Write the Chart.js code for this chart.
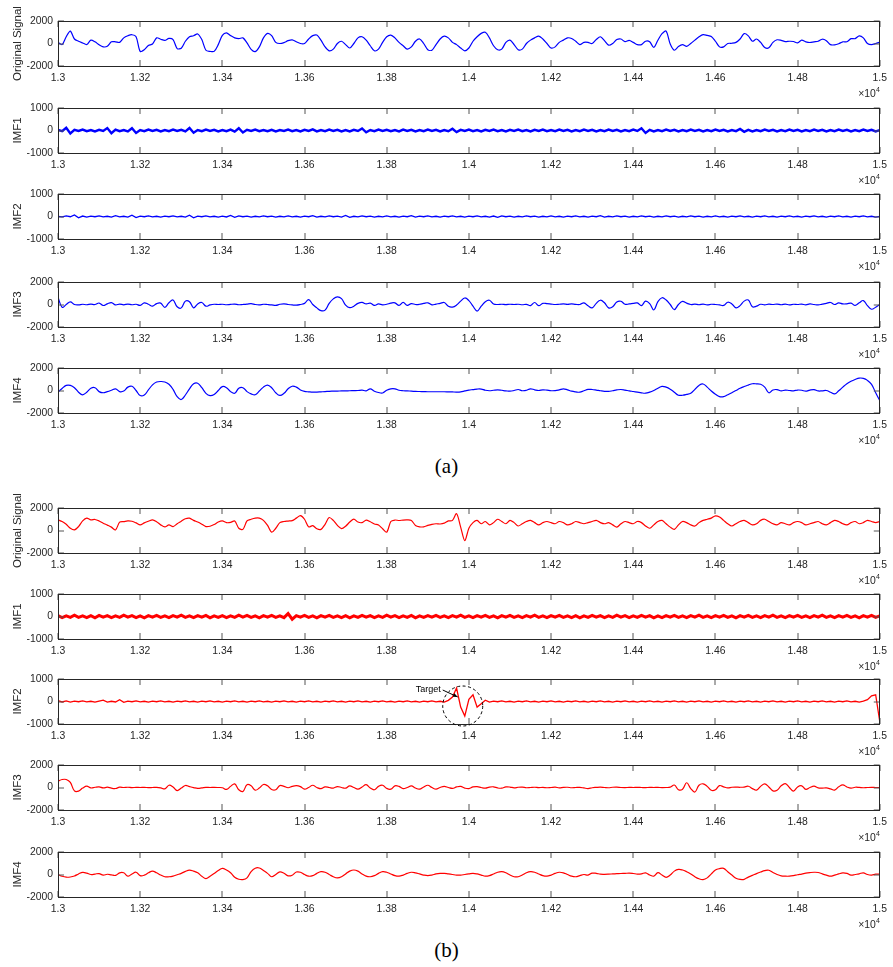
<!DOCTYPE html>
<html>
<head>
<meta charset="utf-8">
<script src="https://cdn.jsdelivr.net/npm/chart.js@4/dist/chart.umd.min.js"></script>
<style>
  body { margin: 0; background: #fff; }
  #page { position: relative; width: 893px; height: 967px; overflow: hidden; background: #fff; }
  .panel { position: absolute; left: 0; }
  .cap { position: absolute; left: 0; width: 893px; text-align: center;
         font-family: "Liberation Serif", "Times New Roman", serif; font-size: 21px; color: #000; line-height: 24px; }
</style>
</head>
<body>
<div id="page">
  <div class="cap" style="top:454px">(a)</div>
  <div class="cap" style="top:938px">(b)</div>
</div>
<script>
// Sample axis: one value every 10 samples from 13000 to 15000
const SAMPLE_START = 13000;
const SAMPLE_STEP = 10;

const xTickSamples = [13000, 13200, 13400, 13600, 13800, 14000, 14200, 14400, 14600, 14800, 15000];
const xTickLabels = ['1.3', '1.32', '1.34', '1.36', '1.38', '1.4', '1.42', '1.44', '1.46', '1.48', '1.5'];
const yTicksWide = [-2000, 0, 2000];
const yTicksNarrow = [-1000, 0, 1000];

// (a) decomposition
const origA = [
  100,-100,600,1100,400,200,50,-90,300,150, -120,-300,-250,150,150,100,500,690,780,600,
  -700,-550,-180,-50,500,380,280,450,350,-450, -420,200,600,690,850,350,-600,-700,-700,-100,
  720,950,700,500,430,500,50,-520,-720,-300, 500,900,700,100,0,80,250,320,150,0,
  0,400,700,750,300,-300,-650,-500,0,200, -100,-400,0,500,600,300,-200,-650,-500,100,
  600,750,500,100,-200,-500,-300,200,400,0, -550,-600,-100,400,650,500,100,-100,-400,-650,
  -400,200,600,900,1000,500,-200,-550,-500,100, 300,-100,-550,-500,0,300,500,650,400,0,
  -400,-300,100,300,500,450,200,-100,100,100, 0,350,600,250,-150,0,350,400,160,280,
  100,-100,-100,200,150,-350,290,870,1100,-50, -600,-270,-100,-250,0,300,590,790,720,620,
  200,-300,-300,0,20,100,400,880,680,200, 400,100,-350,-380,100,330,280,170,200,180,
  50,300,150,90,150,200,380,250,-100,-120, -20,150,150,430,430,680,500,0,-100,0,
  120
];
const imf1A = [
  30,-30,120,-130,30,-20,40,-30,20,-40, 30,-20,110,-120,40,-30,20,-40,100,-110,
  20,-30,40,-20,30,-40,20,-30,40,-20, 30,-40,110,-100,20,-30,40,-20,30,-40,
  20,-30,40,-50,100,-90,30,-20,40,-30, 20,-30,30,-40,20,-20,40,-30,20,-40,
  30,-20,50,-40,20,-30,40,-20,30,-40, 20,-40,30,-20,90,-80,20,-30,40,-20,
  30,-30,20,-40,40,-20,30,-40,20,-30, 40,-20,30,-40,20,-30,80,-70,30,-20,
  40,-30,20,-40,30,-20,40,-30,20,-40, 30,-20,40,-30,20,-40,30,-20,40,-30,
  20,-30,40,-20,30,-40,20,-30,40,-20, 30,-40,20,-30,40,-20,30,-40,20,-30,
  40,-20,100,-110,30,-40,20,-30,40,-20, 30,-40,20,-30,40,-20,30,-40,20,-30,
  40,-20,30,-40,20,-30,70,-60,30,-40, 20,-30,40,-20,30,-40,20,-30,40,-20,
  30,-40,20,-30,40,-20,30,-40,20,-30, 40,-20,30,-40,20,-30,40,-20,30,-40,
  20
];
const imf2A = [
  10,-20,30,-10,70,-60,20,-30,20,-10, 30,-20,10,-30,40,-20,10,-30,60,-50,
  20,-10,30,-20,10,-30,20,-10,30,-20, 10,-30,60,-60,20,-10,30,-20,10,-30,
  20,-20,50,-40,30,-10,20,-30,10,-20, 30,-10,20,-30,10,-20,30,-20,10,-30,
  20,-10,40,-30,10,-20,30,-10,20,-30, 50,-40,10,-20,30,-10,20,-30,10,-20,
  30,-20,10,-30,20,-10,40,-30,20,-10, 30,-20,10,-30,20,-10,30,-20,10,-30,
  20,-10,30,-20,10,-30,20,-40,30,-10, 20,-30,10,-20,30,-10,20,-30,10,-20,
  30,-20,10,-30,20,-10,30,-20,10,-30, 20,-10,40,-30,10,-20,30,-10,20,-30,
  10,-20,30,-10,20,-30,10,-20,30,-10, 20,-30,10,-20,30,-10,20,-30,10,-20,
  30,-20,10,-30,20,-10,30,-20,10,-30, 20,-10,30,-20,10,-30,20,-10,30,-20,
  10,-30,20,-10,30,-20,10,-30,20,-10, 30,-20,10,-30,20,-10,30,-20,10,-30,
  10
];
const imf3A = [
  650,-250,0,240,0,-30,20,-20,30,0, 130,-90,60,170,-40,40,-30,40,-20,20,
  -80,150,20,-150,80,120,-250,150,400,-200, -300,300,250,-300,50,180,-150,-40,20,0,
  20,-20,10,30,-20,0,30,80,0,-30, 20,0,-30,-80,20,60,0,-40,-60,0,
  100,440,0,-300,-550,-500,100,500,680,520, -50,-280,-150,100,190,50,120,-80,50,-30,
  20,120,150,-80,190,-80,80,0,20,100, 150,-30,40,100,180,-160,-230,-50,300,580,
  350,-150,-580,-150,250,380,50,0,20,-10, 20,0,20,-20,10,-100,180,-100,100,80,
  40,0,20,50,20,50,10,0,150,-120, -300,100,380,150,-300,-200,230,290,20,50,
  100,140,-100,300,80,-490,250,600,400,0, -450,0,280,120,0,30,-20,30,-30,20,
  0,-40,-80,200,50,-300,-100,300,400,-200, -150,20,-30,30,0,40,-20,30,-30,20,
  0,40,-30,50,0,-40,30,100,180,0, 140,50,60,120,-80,150,350,-100,-420,-240,
  0
];
const imf4A = [
  -150,180,450,450,250,-150,-380,-150,200,250, -100,-200,-100,20,150,-100,-50,300,380,0,
  -450,-400,50,500,750,800,760,550,100,-550, -800,-400,150,600,650,250,-250,-450,-350,0,
  350,250,-100,-250,200,250,-100,-300,-380,-50, 300,480,250,-200,-440,-250,150,380,300,50,
  -80,-120,-150,-140,-120,-100,-70,-60,-50,-40, -30,-20,-10,0,30,-30,150,-60,-180,-220,
  20,150,150,20,-20,-30,-60,-80,-90,-100, -110,-110,-110,-110,-110,-120,-130,-140,-120,-40,
  40,80,130,130,20,-20,20,60,20,-30, -60,0,90,-20,20,150,60,0,60,30,
  -20,-10,60,150,60,-60,-120,-150,-20,100, 90,40,-20,-70,-80,-20,50,90,40,-30,
  -90,-150,-210,-240,-150,0,200,370,300,120, -150,-420,-420,-350,-250,100,450,580,300,-50,
  -330,-550,-550,-380,-200,0,200,350,480,600, 590,550,300,-200,50,80,-30,40,0,-30,
  40,20,-60,40,80,-40,-30,0,-150,-300, -30,300,600,820,980,1100,1080,900,550,-200,
  -900
];

// (b) decomposition
const origB = [
  950,800,550,200,50,350,850,1100,950,980, 850,650,480,300,50,740,790,850,820,680,
  500,680,820,950,780,500,320,500,350,600, 820,1050,1100,900,750,560,350,380,530,750,
  850,700,720,850,200,100,850,1000,1100,1100, 900,450,-150,200,700,800,840,880,1100,1330,
  1000,320,430,150,100,550,1150,900,450,170, 380,750,1020,750,700,930,780,580,480,150,
  -150,800,930,890,930,940,890,450,330,320, 450,550,600,580,650,850,900,1500,300,-900,
  200,700,900,600,800,500,700,1000,800,600, 900,700,400,600,800,900,700,500,700,800,
  700,600,800,700,500,600,800,700,600,700, 800,900,700,600,700,500,300,600,800,700,
  600,800,700,400,200,500,800,900,600,300, 100,500,800,700,500,400,700,900,1000,1100,
  1300,1200,900,600,400,600,800,900,700,500, 600,900,1000,800,600,500,700,600,500,700,
  800,700,500,600,700,800,600,500,700,900, 800,600,500,700,800,600,700,900,800,700,
  800
];
const imf1B = [
  40,-50,30,-40,60,-40,30,-50,40,-60, 50,-30,40,-50,30,-40,60,-30,40,-50,
  30,-60,40,-30,50,-40,30,-50,40,-30, 60,-40,30,-50,40,-30,50,-60,30,-40,
  40,-50,30,-40,60,-30,50,-40,30,-60, 40,-30,50,-40,30,-50,130,-120,40,-30,
  50,-40,30,-60,40,-30,50,-40,30,-50, 40,-60,30,-40,50,-30,40,-50,30,-40,
  60,-30,40,-50,30,-40,50,-60,30,-40, 40,-30,50,-40,30,-50,40,-30,60,-40,
  30,-50,40,-30,50,-40,30,-60,40,-30, 50,-40,30,-50,40,-30,60,-40,30,-50,
  40,-30,50,-40,30,-50,40,-60,30,-40, 50,-30,40,-50,30,-40,60,-30,40,-50,
  30,-40,50,-30,40,-60,30,-50,40,-30, 50,-40,30,-50,40,-30,60,-40,30,-50,
  40,-30,50,-40,30,-60,40,-30,50,-40, 30,-50,40,-30,60,-40,30,-50,40,-30,
  50,-40,30,-50,40,-30,60,-40,30,-50, 40,-30,50,-40,30,-60,40,-30,50,-40,
  30
];
const imf2B = [
  40,-20,30,-30,20,-10,30,-20,10,-30, 20,60,-30,10,-20,80,-40,20,-10,30,
  -20,10,-30,20,-10,30,-20,10,-30,20, -10,30,-20,10,-30,20,-10,30,-20,10,
  -30,20,-10,30,-20,10,-30,20,-10,30, -20,10,-30,20,-10,30,-20,10,-30,20,
  -10,30,-20,10,-30,20,-10,30,-20,10, -30,20,-10,30,-20,10,-30,20,-10,30,
  -20,10,-30,20,-10,30,-20,10,-30,20, -10,30,-20,10,-30,50,200,600,-250,-650,
  100,300,-250,-100,60,-30,20,-10,30,-20, 10,-30,20,-10,30,-20,10,-30,20,-10,
  30,-20,10,-30,20,-10,30,-20,10,-30, 20,-10,30,-20,10,-30,20,-10,30,-20,
  10,-30,20,-10,30,-20,10,-30,20,-10, 30,-20,10,-30,20,-10,30,-20,10,-30,
  20,-10,30,-20,10,-30,20,-10,30,-20, 10,-30,20,-10,30,-20,10,-30,20,-10,
  30,-20,10,-30,20,-10,30,-20,10,-30, 20,-10,30,-20,10,-30,20,80,250,300,
  -900
];
const imf3B = [
  560,710,710,450,-300,-320,-50,120,-40,20, 60,-40,30,-60,-90,30,0,20,-10,10,
  0,10,-10,0,10,-30,-120,200,50,-270, -50,180,80,-10,-80,-40,10,0,10,0,
  -20,-170,100,320,-200,-350,250,150,-240,-50, 270,150,-180,-200,170,100,-20,100,170,80,
  -150,0,200,0,-100,50,0,-50,80,0, -60,150,0,-150,50,250,-50,-200,100,200,
  -80,-150,150,100,-100,0,150,-50,-150,50, 200,0,-150,0,100,0,-80,50,100,-50,
  -100,50,80,0,-60,40,60,-40,-60,50, 40,-30,20,30,-20,0,20,-10,10,-20,
  0,30,-30,10,20,-20,0,10,-40,-100, -20,10,30,0,-20,20,30,0,-10,10,
  0,10,0,-10,10,0,10,-10,0,30, 220,-200,-150,420,-100,-400,200,330,100,-250,
  -200,170,60,-30,20,30,20,40,110,-100, -240,100,330,50,-300,-250,150,350,0,-320,
  50,150,-170,0,120,-30,-50,-40,-120,-230, 60,240,50,-60,20,10,-20,0,10,0,
  0
];
const imf4B = [
  0,-160,-240,-220,-130,50,190,120,0,40, 80,-60,20,-30,-80,150,150,-150,50,200,
  -100,-60,150,300,150,-50,-200,-200,-140,-20, 100,280,390,300,150,-150,-360,-150,90,350,
  540,400,150,-250,-420,-450,-300,260,560,580, 350,100,-200,0,230,110,-120,-60,220,200,
  0,-150,-100,100,250,200,0,-200,-300,-200, 50,300,400,300,50,-150,-200,-100,100,250,
  200,50,-100,-150,-50,100,200,150,50,-50, -100,-50,50,100,100,50,0,-50,-50,0,
  50,100,50,-50,-150,-100,50,200,250,150, -50,-200,-200,-50,150,250,200,50,-100,-150,
  -50,100,200,150,0,-150,-200,-100,0,-50, 120,100,30,20,30,50,70,90,100,120,
  90,40,60,150,-40,-150,160,-50,-250,-50, 300,450,400,250,50,-200,-380,-450,-300,50,
  400,520,540,250,-50,-330,-440,-430,-230,-80, 80,220,340,380,180,0,-120,-150,-150,-100,
  -20,40,120,170,200,180,60,-50,-150,-60, 50,150,100,-60,0,60,150,0,-50,30,
  30
];

const BLUE = '#0000ff';
const RED = '#ff0000';
const TEXT = '#262626';
const FONT = '"Liberation Sans", Arial, Helvetica, sans-serif';

const PAD_TOP = 40;   // room above each plot box for the rotated axis title
const PLOT_H = 45;
const AXIS_H = 36;
const TICK_LEN = 6;

const panels = [
  { label: 'Original Signal', values: origA, color: BLUE, ticks: yTicksWide,   top: 21,  tension: 0.3, width: 1.2 },
  { label: 'IMF1',            values: imf1A, color: BLUE, ticks: yTicksNarrow, top: 108, tension: 0,   width: 2.4 },
  { label: 'IMF2',            values: imf2A, color: BLUE, ticks: yTicksNarrow, top: 194, tension: 0,   width: 1.3 },
  { label: 'IMF3',            values: imf3A, color: BLUE, ticks: yTicksWide,   top: 282, tension: 0.4, width: 1.2 },
  { label: 'IMF4',            values: imf4A, color: BLUE, ticks: yTicksWide,   top: 368, tension: 0.4, width: 1.2 },
  { label: 'Original Signal', values: origB, color: RED,  ticks: yTicksWide,   top: 508, tension: 0.3, width: 1.2 },
  { label: 'IMF1',            values: imf1B, color: RED,  ticks: yTicksNarrow, top: 594, tension: 0,   width: 3.0 },
  { label: 'IMF2',            values: imf2B, color: RED,  ticks: yTicksNarrow, top: 679, tension: 0,   width: 1.3,
    target: { sample: 13985, value: -200, radius: 20, text: 'Target' } },
  { label: 'IMF3',            values: imf3B, color: RED,  ticks: yTicksWide,   top: 765, tension: 0.4, width: 1.2 },
  { label: 'IMF4',            values: imf4B, color: RED,  ticks: yTicksWide,   top: 852, tension: 0.4, width: 1.2 }
];

// Box, inward ticks, rotated axis title, x exponent and optional annotation
const axesFrame = {
  id: 'axesFrame',
  afterDraw(chart, args, opts) {
    const { ctx, chartArea: a, scales: { x, y } } = chart;
    ctx.save();
    // inward tick marks
    ctx.strokeStyle = '#555';
    ctx.lineWidth = 1;
    ctx.beginPath();
    x.ticks.forEach((t, i) => {
      const px = Math.round(x.getPixelForTick(i));
      ctx.moveTo(px, a.top); ctx.lineTo(px, a.top + TICK_LEN);
      ctx.moveTo(px, a.bottom); ctx.lineTo(px, a.bottom - TICK_LEN);
    });
    y.ticks.forEach((t, i) => {
      const py = Math.round(y.getPixelForTick(i));
      ctx.moveTo(a.left, py); ctx.lineTo(a.left + TICK_LEN, py);
      ctx.moveTo(a.right, py); ctx.lineTo(a.right - TICK_LEN, py);
    });
    ctx.stroke();
    // box
    ctx.strokeStyle = TEXT;
    ctx.strokeRect(Math.round(a.left) + 0.5, Math.round(a.top) + 0.5,
                   Math.round(a.right - a.left) - 1, Math.round(a.bottom - a.top));
    // exponent label under the last tick
    ctx.fillStyle = TEXT;
    ctx.textBaseline = 'alphabetic';
    ctx.textAlign = 'right';
    ctx.font = '7px ' + FONT;
    const supW = ctx.measureText('4').width;
    ctx.fillText('4', a.right, a.bottom + 26);
    ctx.font = '10.4px ' + FONT;
    ctx.fillText('\u00d710', a.right - supW, a.bottom + 31);
    // rotated axis title
    ctx.save();
    ctx.translate(17.5, (a.top + a.bottom) / 2);
    ctx.rotate(-Math.PI / 2);
    ctx.textAlign = 'center';
    ctx.textBaseline = 'middle';
    ctx.font = '11.5px ' + FONT;
    ctx.fillText(opts.label, 0, 0);
    ctx.restore();
    // marked event
    if (opts.target) {
      const t = opts.target;
      const cx = x.getPixelForValue(t.sample);
      const cy = y.getPixelForValue(t.value);
      ctx.strokeStyle = '#000';
      ctx.setLineDash([3, 2.5]);
      ctx.beginPath();
      ctx.arc(cx, cy, t.radius, 0, Math.PI * 2);
      ctx.stroke();
      ctx.setLineDash([]);
      ctx.font = '9px ' + FONT;
      ctx.fillStyle = '#000';
      ctx.textAlign = 'right';
      ctx.textBaseline = 'middle';
      const tx = cx - t.radius - 2, ty = cy - 16;
      ctx.fillText(t.text, tx, ty);
      const ex = cx - 5, ey = cy - 9;
      ctx.beginPath();
      ctx.moveTo(tx + 2, ty);
      ctx.lineTo(ex, ey);
      ctx.stroke();
      const ang = Math.atan2(ey - ty, ex - tx - 2);
      ctx.beginPath();
      ctx.moveTo(ex, ey);
      ctx.lineTo(ex - 5 * Math.cos(ang - 0.4), ey - 5 * Math.sin(ang - 0.4));
      ctx.lineTo(ex - 5 * Math.cos(ang + 0.4), ey - 5 * Math.sin(ang + 0.4));
      ctx.closePath();
      ctx.fill();
    }
    ctx.restore();
  }
};

const page = document.getElementById('page');

panels.forEach(p => {
  const holder = document.createElement('div');
  holder.className = 'panel';
  holder.style.top = (p.top - PAD_TOP) + 'px';
  const cv = document.createElement('canvas');
  cv.width = 893;
  cv.height = PAD_TOP + PLOT_H + AXIS_H;
  cv.style.width = '893px';
  cv.style.height = cv.height + 'px';
  holder.appendChild(cv);
  page.appendChild(holder);

  const points = p.values.map((v, i) => ({ x: SAMPLE_START + i * SAMPLE_STEP, y: v }));
  const yMax = p.ticks[p.ticks.length - 1];

  new Chart(cv, {
    type: 'line',
    data: {
      datasets: [{
        data: points,
        borderColor: p.color,
        borderWidth: p.width,
        pointRadius: 0,
        tension: p.tension,
        fill: false
      }]
    },
    options: {
      responsive: false,
      animation: false,
      devicePixelRatio: 1,
      events: [],
      layout: { padding: { top: PAD_TOP, right: 9, left: 0, bottom: 0 } },
      plugins: {
        legend: { display: false },
        tooltip: { enabled: false },
        axesFrame: { label: p.label, target: p.target }
      },
      scales: {
        x: {
          type: 'linear',
          min: xTickSamples[0],
          max: xTickSamples[xTickSamples.length - 1],
          afterBuildTicks: s => { s.ticks = xTickSamples.map(v => ({ value: v })); },
          afterFit: s => { s.height = AXIS_H; },
          grid: { display: false, drawTicks: false },
          border: { display: false },
          ticks: {
            autoSkip: false, maxRotation: 0, padding: 6,
            color: TEXT, font: { family: FONT, size: 10.4 },
            callback: (v, i) => xTickLabels[i]
          }
        },
        y: {
          type: 'linear',
          min: -yMax,
          max: yMax,
          afterBuildTicks: s => { s.ticks = p.ticks.map(v => ({ value: v })); },
          afterFit: s => { s.width = 58; },
          grid: { display: false, drawTicks: false },
          border: { display: false },
          ticks: {
            padding: 5, color: TEXT, font: { family: FONT, size: 10.4 },
            callback: v => String(v)
          }
        }
      }
    },
    plugins: [axesFrame]
  });
});
</script>
</body>
</html>
